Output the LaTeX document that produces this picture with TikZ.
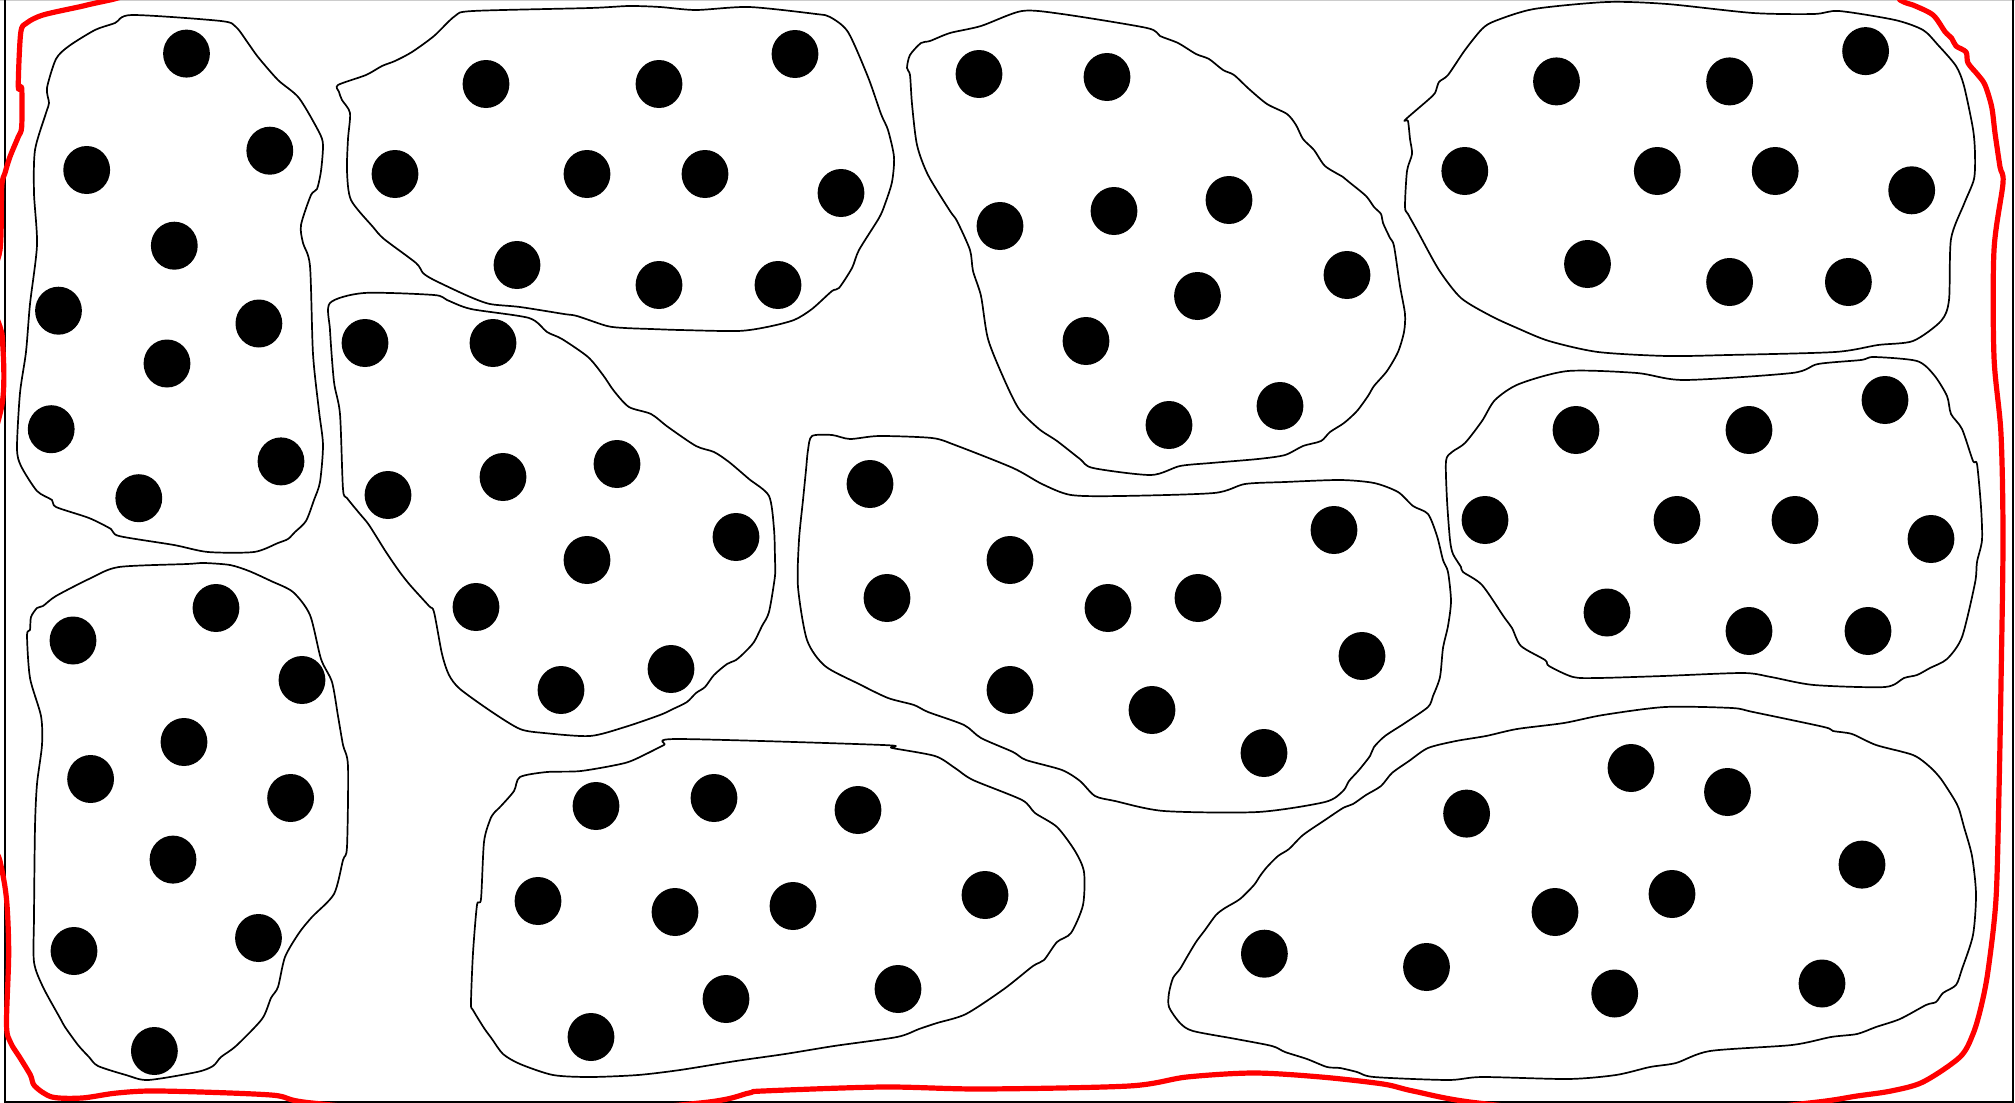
\documentclass[tikz,border=0pt]{standalone}
\tikzset{
  blobline/.style={draw=black, line width=0.85pt, line join=round},
  dotfill/.style={fill=black},
  redloop/.style={draw=red, line width=2.6pt, line join=round},
  framel/.style={draw=black, line width=0.9pt},
}
\begin{document}
\begin{tikzpicture}[x=0.5pt,y=-0.5pt]
\useasboundingbox (0,0) rectangle (2015,1103);
\fill[white] (0,0) rectangle (2015,1103);
% frame
\draw[black!20, line width=0.8pt] (0,0.6) -- (2015,0.6);
\draw[framel] (5,0) -- (5,1102) -- (2013,1102) -- (2013,0);
% red loop
\begin{scope}
\clip (0,0) rectangle (2015,1103);
\draw[redloop] plot[smooth cycle, tension=0.5] coordinates {
(300,-40) (110,0) (80,6.7) (43,15) (26.7,23) (20.7,33) (18.3,86.7) (21.7,88) (21.7,126.7)
(18.3,136.7) (10,156.7) (5,173) (1.7,187) (0,250) (-12,290) (0,326.7) (2.7,343) (2.7,400)
(-15,500) (-15,800) (0,861) (6.5,899) (8.7,953) (6.5,1025) (10.8,1043) (19.5,1057) (30.4,1075)
(34.7,1086) (52,1097) (82,1098) (117,1093) (160,1091) (271,1095) (312,1103) (500,1118)
(700,1103) (749,1093) (763,1091) (883,1087) (981,1089) (1129,1086) (1187,1077) (1254,1073)
(1321,1077) (1383,1084) (1413,1091) (1478,1103) (1650,1118) (1809,1103) (1857,1096) (1891,1091)
(1923,1082) (1960,1057) (1973,1034) (1981,1007) (1988,971) (1996,899) (1999,791) (2001,684)
(2003,540) (2001,434) (1994,357) (1994,250) (2003,183) (2000,167) (1995,133) (1991.7,107)
(1985,85) (1978,75) (1968,63) (1966,52) (1956,46) (1951.7,38.3) (1945,31.7) (1933,15)
(1913,5) (1900,0) (1850,-30) (1000,-50)};
\end{scope}
% blob outlines
\draw[blobline] plot[smooth cycle, tension=0.45] coordinates {
(132,15) (221,21) (236,27) (248,43) (258,57) (278,80) (299,98) (319,132) (323,145) (321,171)
(317,189) (311,195) (301,225) (303,243) (310,266) (313,354) (319,411) (323,445) (320,482)
(314,500) (306,521) (295,532) (288,539) (278,543) (254,552) (208,552) (174,545) (119,536)
(111,529) (89,518) (56,507) (52,500) (37,491) (21,466) (17,448) (20,393) (26,352) (30,304)
(37,245) (34,193) (35,150) (46,113) (49,103) (47,88) (56,59) (69,46) (95,30) (115,23)};
\draw[blobline] plot[smooth cycle, tension=0.45] coordinates {
(338,85) (366,75) (382,66) (395,61) (412,52) (434,36) (455,16) (473,11) (590,8) (629,6)
(660,7) (696,10) (749,7) (816,14) (830,17) (848,32) (868,77) (881,114) (888,130) (894,157)
(892,182) (885,204) (879,218) (859,250) (852,268) (839,288) (832,291) (812,309) (794,320)
(767,327) (738,331) (680,330) (651,329) (625,328) (607,326) (577,316) (564,314) (520,307)
(490,304) (468,296) (434,280) (423,273) (416,263) (384,239) (373,227) (351,200) (347,171)
(348,139) (350,113) (342,100) (339,92)};
\draw[blobline] plot[smooth cycle, tension=0.45] coordinates {
(330,303) (364,293) (434,295) (447,300) (471,309) (529,318) (547,332) (562,339) (588,357)
(603,375) (614,391) (629,407) (651,414) (668,427) (696,446) (714,452) (729,462) (749,479)
(769,496) (774,529) (775,560) (775,576) (769,612) (762,626) (754,642) (745,652) (736,660)
(727,664) (714,675) (705,687) (696,693) (687,702) (673,709) (660,715) (625,727) (590,736)
(544,733) (520,729) (492,712) (460,689) (449,675) (442,654) (434,612) (429,606) (410,585)
(399,571) (386,552) (369,525) (360,514) (347,498) (343,489) (340,414) (334,382) (330,330)};
\draw[blobline] plot[smooth cycle, tension=0.45] coordinates {
(43,606) (56,596) (91,578) (119,567) (187,564) (204,563) (230,565) (249,571) (271,581)
(293,592) (310,615) (321,659) (332,682) (338,716) (343,745) (348,766) (347,847) (343,860)
(334,894) (312,917) (299,933) (285,957) (278,987) (271,998) (262,1019) (236,1046) (221,1057)
(213,1066) (197,1072) (148,1080) (126,1075) (98,1066) (89,1057) (78,1045) (65,1027) (60,1018)
(43,987) (34,962) (34,917) (35,827) (37,784) (42,745) (41,716) (30,678) (27,635) (30,630)
(31,617) (37,608)};
\draw[blobline] plot[smooth cycle, tension=0.45] coordinates {
(514,791) (520,777) (547,772) (581,771) (625,763) (646,754) (664,745) (678,739) (883,745)
(892,748) (935,756) (955,768) (973,780) (1022,800) (1035,813) (1057,827) (1075,851) (1084,872)
(1083,905) (1071,933) (1057,942) (1044,960) (1033,966) (1004,989) (966,1014) (937,1023)
(919,1029) (897,1037) (834,1046) (785,1054) (736,1061) (680,1070) (638,1075) (590,1077)
(553,1075) (520,1064) (503,1054) (492,1039) (484,1028) (473,1010) (471,1003) (473,953)
(477,905) (481,899) (484,842) (490,820) (494,813) (501,806)};
\draw[blobline] plot[smooth cycle, tension=0.45] coordinates {
(812,436) (832,435) (850,439) (879,436) (932,438) (955,445) (1013,468) (1042,484) (1071,495)
(1120,496) (1214,493) (1245,484) (1285,482) (1340,480) (1374,483) (1398,492) (1413,506)
(1428,514) (1437,536) (1443,560) (1448,572) (1451,601) (1448,626) (1443,648) (1440,677)
(1433,696) (1428,707) (1405,723) (1385,736) (1374,747) (1370,756) (1359,770) (1349,781)
(1343,791) (1325,802) (1258,812) (1164,811) (1115,801) (1095,796) (1080,781) (1062,770)
(1026,760) (1013,752) (981,738) (964,725) (928,712) (914,705) (888,698) (859,684) (825,666)
(807,640) (798,587) (799,540) (803,500) (806,470) (808,450)};
\draw[blobline] plot[smooth cycle, tension=0.45] coordinates {
(921,43) (930,41) (950,33) (981,26) (1022,11) (1062,14) (1147,28) (1160,36) (1178,43)
(1196,54) (1209,59) (1223,70) (1234,75) (1249,89) (1267,104) (1287,114) (1296,125) (1303,139)
(1314,150) (1325,166) (1343,177) (1349,182) (1366,196) (1374,207) (1381,214) (1383,223)
(1390,238) (1394,246) (1400,286) (1405,314) (1404,332) (1398,352) (1387,371) (1374,386)
(1368,396) (1357,411) (1344,423) (1330,432) (1321,441) (1303,446) (1285,455) (1258,459)
(1211,463) (1180,466) (1151,475) (1093,468) (1080,459) (1057,441) (1039,429) (1019,409)
(1004,379) (988,339) (981,296) (973,271) (970,250) (957,221) (950,211) (928,175) (917,145)
(912,104) (910,75) (907,68) (910,55)};
\draw[blobline] plot[smooth cycle, tension=0.45] coordinates {
(1405,120) (1428,100) (1435,93) (1439,82) (1448,75) (1465,50) (1482,29) (1495,21) (1534,9)
(1607,2) (1667,4) (1753,13) (1814,14) (1839,11) (1895,20) (1923,30) (1938,45) (1956,66)
(1964,86) (1973,129) (1975,154) (1974,179) (1964,204) (1951,239) (1949,300) (1941,321)
(1913,341) (1878,345) (1835,352) (1728,355) (1667,356) (1598,352) (1549,341) (1517,328)
(1491,316) (1461,298) (1439,270) (1418,232) (1408,214) (1405,207) (1407,171) (1412,154)
(1410,139) (1408,121)};
\draw[blobline] plot[smooth cycle, tension=0.45] coordinates {
(1446,461) (1452,452) (1465,443) (1482,421) (1495,400) (1519,384) (1568,371) (1637,373)
(1684,380) (1792,373) (1818,364) (1861,360) (1874,357) (1917,361) (1934,375) (1947,396)
(1951,414) (1962,429) (1973,461) (1977,464) (1981,507) (1982,540) (1977,562) (1975,583)
(1962,637) (1947,659) (1930,668) (1917,675) (1904,678) (1885,687) (1814,685) (1771,677)
(1743,673) (1663,676) (1598,678) (1573,677) (1549,666) (1545,660) (1521,646) (1512,628)
(1504,617) (1482,585) (1463,572) (1461,567) (1453,554) (1450,540) (1447,500)};
\draw[blobline] plot[smooth cycle, tension=0.45] coordinates {
(1343,808) (1353,804) (1366,795) (1381,786) (1392,773) (1409,761) (1428,748) (1456,741)
(1486,736) (1517,729) (1564,723) (1603,715) (1665,707) (1732,708) (1753,712) (1824,727)
(1833,731) (1852,734) (1876,745) (1913,755) (1930,767) (1941,779) (1954,799) (1959,809)
(1964,827) (1972,856) (1976,894) (1973,935) (1962,969) (1956,985) (1943,993) (1936,1002)
(1926,1005) (1900,1019) (1876,1027) (1857,1034) (1831,1037) (1792,1045) (1710,1051)
(1676,1063) (1650,1067) (1616,1075) (1568,1079) (1482,1077) (1448,1080) (1374,1077)
(1357,1072) (1340,1068) (1327,1067) (1307,1059) (1285,1052) (1272,1046) (1236,1039)
(1193,1031) (1180,1023) (1169,1007) (1169,993) (1173,978) (1180,969) (1187,957) (1196,942)
(1205,930) (1216,915) (1225,908) (1240,899) (1254,885) (1260,876) (1267,867) (1278,856)
(1289,849) (1303,835) (1325,820)};
% dots
\foreach \x/\y in {
186.5/53.6, 86.7/170, 269.8/150.7, 174.3/245.7, 58.5/310.7, 258.9/323.5, 167/363.5, 51.2/429.2, 281/461.4, 138.8/498.2,
486/84, 659/84, 795/54, 395/174, 587/174, 705/174, 841/193, 517/265, 659/285, 778/285,
365/343, 493/343, 388/495, 503/477, 617/464, 587/560, 476/607, 561/690, 671/669, 736/537,
216/608, 73/640.5, 302/680, 184/742, 90.6/779, 290.6/798, 173/859.6, 74/951, 258.5/938, 154.4/1051,
596/806, 714/798, 858/810, 538/901, 675/912, 793/906, 985/895, 591/1037, 726/999, 898/989,
870/484, 1010/560, 887/598, 1108/608, 1198/598, 1334/530, 1362/656, 1010/690, 1152/710, 1264/753,
979/74, 1107/77, 1000/226, 1114/211, 1229/200, 1347/275, 1197.5/296, 1086/341, 1169/425, 1280/406,
1556.5/81.4, 1729.6/81.4, 1865.6/51.1, 1464.8/171, 1657.3/171, 1775.2/171, 1911.7/190.3, 1587.5/264, 1729.6/282, 1848.4/282,
1576/430, 1749/430, 1885/400, 1485/520, 1677/520, 1795/520, 1931/539, 1607/612.5, 1749/631, 1868/631,
1631/768, 1727.5/792, 1466.6/813.6, 1862/864.6, 1672/894, 1555/912, 1426.5/967, 1614.7/993.5, 1822/983.5, 1264.4/953.7}
  \fill[dotfill] (\x,\y) ellipse [x radius=11.7pt, y radius=12pt];
\end{tikzpicture}
\end{document}
